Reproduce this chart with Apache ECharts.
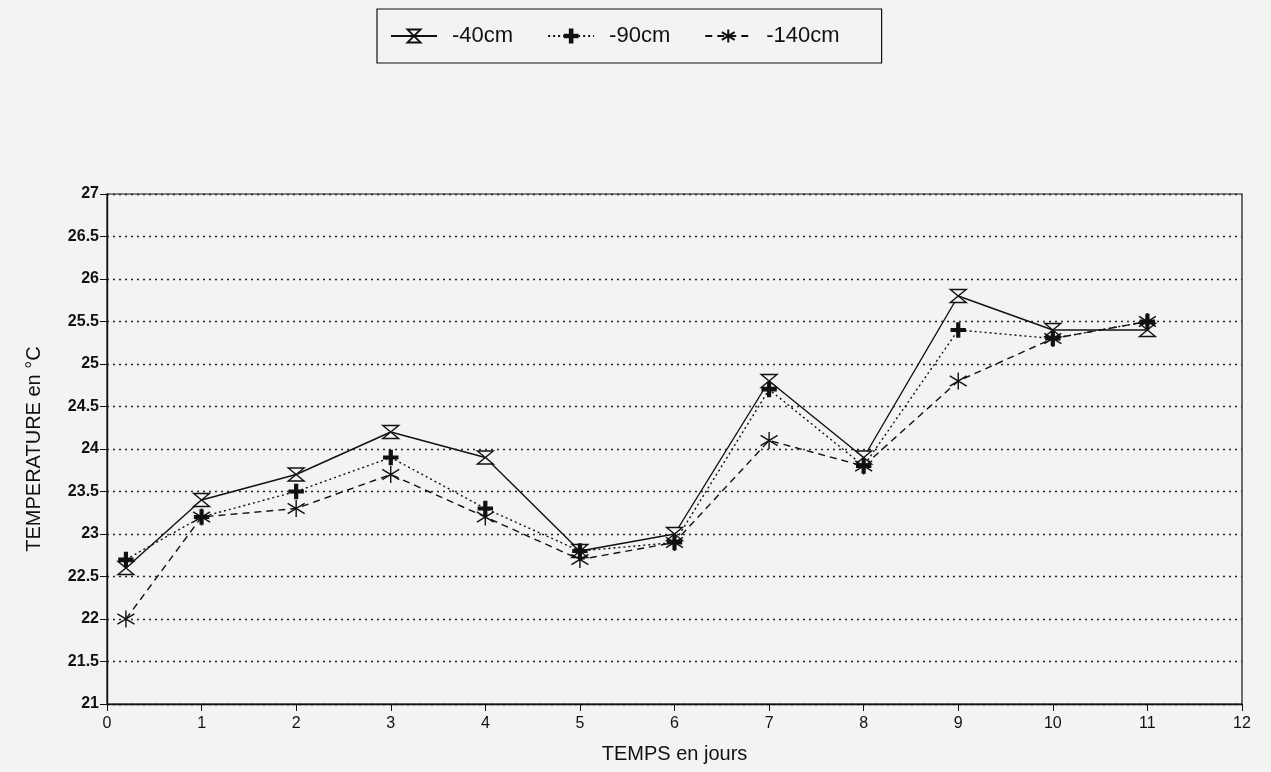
<!DOCTYPE html>
<html>
<head>
<meta charset="utf-8">
<title>Temperature</title>
<script src="https://cdn.jsdelivr.net/npm/echarts@6/dist/echarts.min.js"></script>
<style>
	html, body { margin: 0; padding: 0; background: #f2f4f1; }
	#chart { width: 1271px; height: 772px; }
</style>
</head>
<body>
<div id="chart"></div>
<script>
var days = [0.2, 1, 2, 3, 4, 5, 6, 7, 8, 9, 10, 11];
var t40 = [22.6, 23.4, 23.7, 24.2, 23.9, 22.8, 23.0, 24.8, 23.9, 25.8, 25.4, 25.4];
var t90 = [22.7, 23.2, 23.5, 23.9, 23.3, 22.8, 22.9, 24.7, 23.8, 25.4, 25.3, 25.5];
var t140 = [22.0, 23.2, 23.3, 23.7, 23.2, 22.7, 22.9, 24.1, 23.8, 24.8, 25.3, 25.5];
var seriesNames = ['-40cm', '-90cm', '-140cm'];

// symboles dessinés
var hourglass = 'path://M0,0 L10,0 L0,10 L10,10 Z';
var plus = 'path://M4,0 L6,0 L6,4 L10,4 L10,6 L6,6 L6,10 L4,10 L4,6 L0,6 L0,4 L4,4 Z';
var star = 'path://M5,0 L5,10 M0,2 L10,8 M0,8 L10,2';

function pairs(xs, ys) {
	return xs.map(function(x, i) {
		return [x, ys[i]];
	});
}

function makeSerie(name, values, type, symbol, size, fill) {
	return {
		name: name,
		type: 'line',
		data: pairs(days, values),
		symbol: symbol,
		symbolSize: size,
		lineStyle: {
			color: '#111',
			width: 1.4,
			type: type
		},
		itemStyle: {
			color: fill,
			borderColor: '#111',
			borderWidth: 1.4
		},
		emphasis: { disabled: true },
		animation: false
	};
}

var chart = echarts.init(document.getElementById('chart'));
chart.setOption({
	backgroundColor: '#f2f4f1',
	textStyle: { fontFamily: 'Liberation Sans, Arial, sans-serif', color: '#111' },
	legend: {
		left: 377,
		top: 9,
		padding: [16, 42, 16, 13],
		itemGap: 34,
		itemWidth: 46,
		itemHeight: 16,
		borderColor: '#111',
		borderWidth: 1.2,
		textStyle: { fontSize: 22, color: '#111', padding: [0, 0, 0, 10] },
		data: seriesNames
	},
	grid: {
		left: 107,
		right: 29,
		top: 194,
		bottom: 68,
		show: true,
		borderColor: '#111',
		borderWidth: 1.2
	},
	xAxis: {
		type: 'value',
		min: 0,
		max: 12,
		interval: 1,
		name: 'TEMPS en jours',
		nameLocation: 'middle',
		nameGap: 40,
		nameTextStyle: { fontSize: 20, color: '#111' },
		axisLine: { lineStyle: { color: '#111', width: 1.4 } },
		axisTick: { inside: false, length: 7, lineStyle: { color: '#111' } },
		axisLabel: { fontSize: 16, color: '#111', margin: 12, fontFamily: 'Liberation Sans Narrow, Liberation Sans, sans-serif' },
		splitLine: { show: false }
	},
	yAxis: {
		type: 'value',
		min: 21,
		max: 27,
		interval: 0.5,
		name: 'TEMPERATURE en °C',
		nameLocation: 'middle',
		nameGap: 63,
		nameTextStyle: { fontSize: 20, color: '#111' },
		axisLine: { lineStyle: { color: '#111', width: 1.4 } },
		axisTick: { inside: false, length: 7, lineStyle: { color: '#111' } },
		axisLabel: { fontSize: 16, color: '#111', margin: 8, fontWeight: 'bold', fontFamily: 'Liberation Sans Narrow, Liberation Sans, sans-serif' },
		splitLine: {
			show: true,
			lineStyle: { color: '#222', width: 1.3, type: [2, 4] }
		}
	},
	series: [
		makeSerie(seriesNames[0], t40, 'solid', hourglass, [16, 13], '#f2f4f1'),
		makeSerie(seriesNames[1], t90, [2, 3], plus, 14, '#111'),
		makeSerie(seriesNames[2], t140, [7, 5], star, 17, 'none')
	]
});
</script>
</body>
</html>
